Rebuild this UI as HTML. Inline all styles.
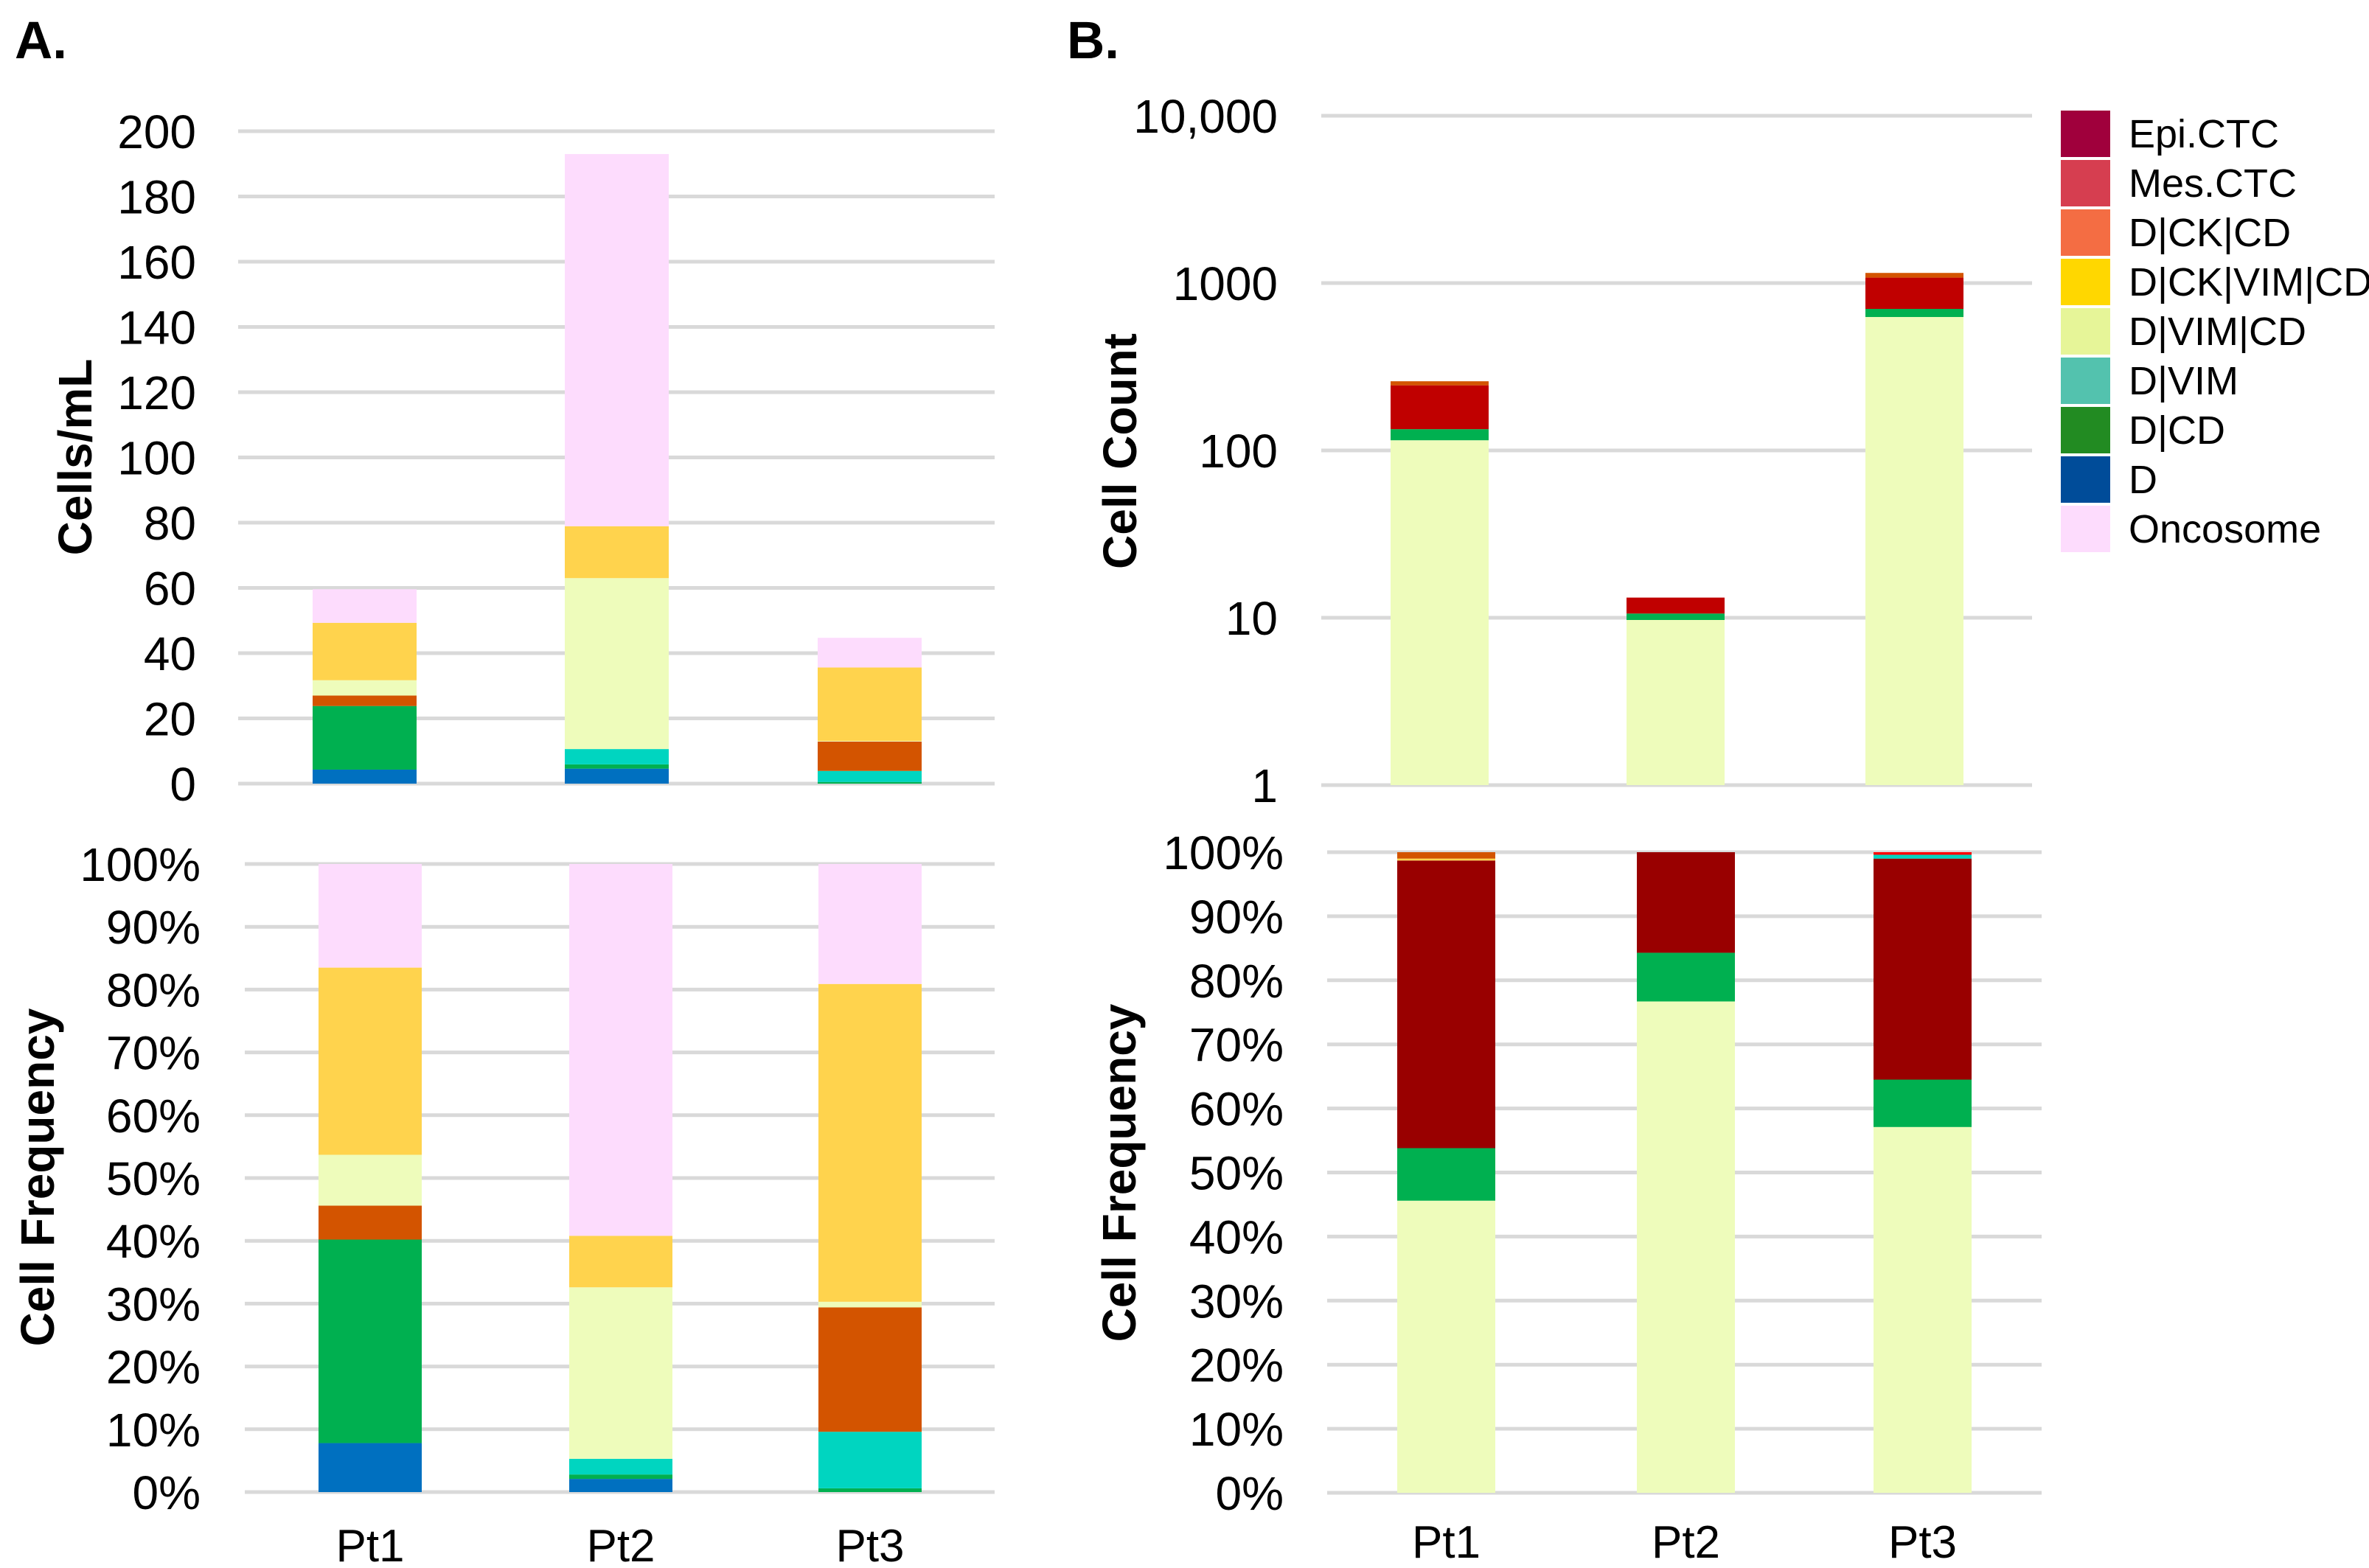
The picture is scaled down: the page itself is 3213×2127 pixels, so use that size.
<!DOCTYPE html>
<html><head><meta charset="utf-8"><style>
html,body{margin:0;padding:0;background:#fff}
svg{display:block}
text{font-family:"Liberation Sans",Arial,sans-serif;fill:#000}
</style></head><body>
<svg id="fig" width="3213" height="2127" viewBox="0 0 3213 2127" xmlns="http://www.w3.org/2000/svg">
<text x="20" y="79" font-size="71" font-weight="bold">A.</text>
<text x="1447" y="79" font-size="71" font-weight="bold">B.</text>
<text transform="translate(124,620) rotate(-90)" text-anchor="middle" font-size="64" font-weight="bold">Cells/mL</text>
<text transform="translate(73,1597) rotate(-90)" text-anchor="middle" font-size="64" font-weight="bold">Cell Frequency</text>
<text transform="translate(1541,612) rotate(-90)" text-anchor="middle" font-size="64" font-weight="bold">Cell Count</text>
<text transform="translate(1540,1591) rotate(-90)" text-anchor="middle" font-size="64" font-weight="bold">Cell Frequency</text>
<g id="charts"></g>
<g id="legend"></g>
</svg>
<script>
const categories = ["Pt1","Pt2","Pt3"];
const aSeries = ["D","D|CD","D|VIM","D|CK|CD","D|VIM|CD","D|CK|VIM|CD","Oncosome"];
const aColors = ["#0070C0","#00B050","#00D5C0","#D35400","#EEFCBB","#FFD34D","#FDDCFD"];
const aTopD      = [4.3, 4.6, 0.0];
const aTopDCD    = [19.5, 1.3, 0.5];
const aTopDVIM   = [0.0, 4.7, 3.4];
const aTopDCKCD  = [3.2, 0.0, 9.0];
const aTopDVIMCD = [4.7, 52.4, 0.2];
const aTopDCKVIM = [17.6, 15.9, 22.5];
const aTopOnco   = [10.3, 114.1, 9.1];
const aTopTicks  = [0,20,40,60,80,100,120,140,160,180,200];
const aBotD      = [7.8, 2.1, 0.0];
const aBotDCD    = [32.4, 0.7, 0.6];
const aBotDVIM   = [0.0, 2.5, 9.0];
const aBotDCKCD  = [5.4, 0.0, 19.8];
const aBotDVIMCD = [8.1, 27.3, 0.9];
const aBotDCKVIM = [29.8, 8.2, 50.6];
const aBotOnco   = [16.5, 59.2, 19.1];
const pctTicks   = [0,10,20,30,40,50,60,70,80,90,100];
const bSeries = ["D|VIM|CD","D|CD","CTC","D|CK|CD"];
const bTopColors = ["#EEFCBB","#00B050","#C00000","#D35400"];
const bTopLight = [115, 9.7, 627];
const bTopGreen = [19, 0.9, 74];
const bTopRed   = [111, 2.6, 377];
const bTopOrange= [14, 0, 72];
const logTicks  = [1,10,100,1000,10000];
const logTickLabels = ["1","10","100","1000","10,000"];
const bBotColors = ["#EEFCBB","#00B050","#990000","#FFD34D","#D35400","#00D5C0","#FF0000"];
const bBotLight = [45.6, 76.7, 57.1];
const bBotGreen = [8.2, 7.6, 7.4];
const bBotRed   = [44.9, 15.7, 34.5];
const bBotYellow= [0.3, 0, 0];
const bBotOrange= [1.0, 0, 0];
const bBotTeal  = [0, 0, 0.6];
const bBotBright= [0, 0, 0.4];
const legendLabels = ["Epi.CTC","Mes.CTC","D|CK|CD","D|CK|VIM|CD","D|VIM|CD","D|VIM","D|CD","D","Oncosome"];
const legendColors = ["#A0003C","#D63E50","#F46D43","#FFD700","#E6F598","#53C2AE","#228B22","#004C99","#FDDCFD"];

const NS="http://www.w3.org/2000/svg";
const root=document.getElementById('charts');
function mk(tag,attrs,parent){const e=document.createElementNS(NS,tag);for(const k in attrs)e.setAttribute(k,attrs[k]);(parent||root).appendChild(e);return e;}

function drawChart(cfg){
  const g=mk('g',{});
  
  
  cfg.ticks.forEach((t,i)=>{
    const y=cfg.yScale(t);
    const ln=mk('line',{x1:cfg.gx0,x2:cfg.gx1,y1:y,y2:y,stroke:"#D9D9D9","stroke-width":5},g);
    
    
    const tx=mk('text',{x:cfg.labelX,y:y+23,"text-anchor":"end","font-size":64},g);
    tx.textContent=cfg.tickLabels[i];
    
    
  });
  categories.forEach((c,ci)=>{
    let cum=0;
    cfg.series.forEach((arr,si)=>{
      const v=arr[ci]; if(!(v>0)) return;
      const y0=cfg.yScale(cfg.base(cum)); cum+=v; const y1=cfg.yScale(cum);
      const r=mk('rect',{x:cfg.barX[ci],y:y1,width:cfg.barW,height:Math.max(0,y0-y1),fill:cfg.colors[si]},g);
      
      
    });
    if(cfg.catY){
      const t=mk('text',{x:cfg.barX[ci]+cfg.barW/2,y:cfg.catY,"text-anchor":"middle","font-size":62},g);
      t.textContent=c;
      
      
    }
  });
}
function lin(v0,v1,p0,p1){return v=>p0+(v-v0)*(p1-p0)/(v1-v0);}
function logS(p0,p1){return v=>p0+Math.log10(Math.max(v,1))*(p1-p0)/4;}
const pctLabels=pctTicks.map(t=>t+"%");

drawChart({name:"a-top-chart",ticks:aTopTicks,tickLabels:aTopTicks.map(String),yScale:lin(0,200,1063,178),
  gx0:323,gx1:1349,labelX:266,barX:[424,766,1109],barW:141,base:v=>v,
  series:[aTopD,aTopDCD,aTopDVIM,aTopDCKCD,aTopDVIMCD,aTopDCKVIM,aTopOnco],colors:aColors});
drawChart({name:"a-bottom-chart",ticks:pctTicks,tickLabels:pctLabels,yScale:lin(0,100,2024,1172),
  gx0:332,gx1:1349,labelX:272,barX:[432,772,1110],barW:140,base:v=>v,catY:2118,
  series:[aBotD,aBotDCD,aBotDVIM,aBotDCKCD,aBotDVIMCD,aBotDCKVIM,aBotOnco],colors:aColors});
drawChart({name:"b-top-chart",ticks:logTicks,tickLabels:logTickLabels,yScale:logS(1065,157),
  gx0:1792,gx1:2756,labelX:1733,barX:[1886,2206,2530],barW:133,base:v=>Math.max(v,1),
  series:[bTopLight,bTopGreen,bTopRed,bTopOrange],colors:bTopColors});
drawChart({name:"b-bottom-chart",ticks:pctTicks,tickLabels:pctLabels,yScale:lin(0,100,2025,1156),
  gx0:1800,gx1:2769,labelX:1741,barX:[1895,2220,2541],barW:133,base:v=>v,catY:2113,
  series:[bBotLight,bBotGreen,bBotRed,bBotYellow,bBotOrange,bBotTeal,bBotBright],colors:bBotColors});

const lg=document.getElementById('legend');
legendLabels.forEach((l,i)=>{
  const y=150+i*67;
  const r=mk('rect',{x:2795,y:y,width:67,height:63,fill:legendColors[i]},lg);
  
  
  const t=mk('text',{x:2887,y:y+50,"font-size":54},lg);
  t.textContent=l;
  
  
});
</script>
</body></html>
